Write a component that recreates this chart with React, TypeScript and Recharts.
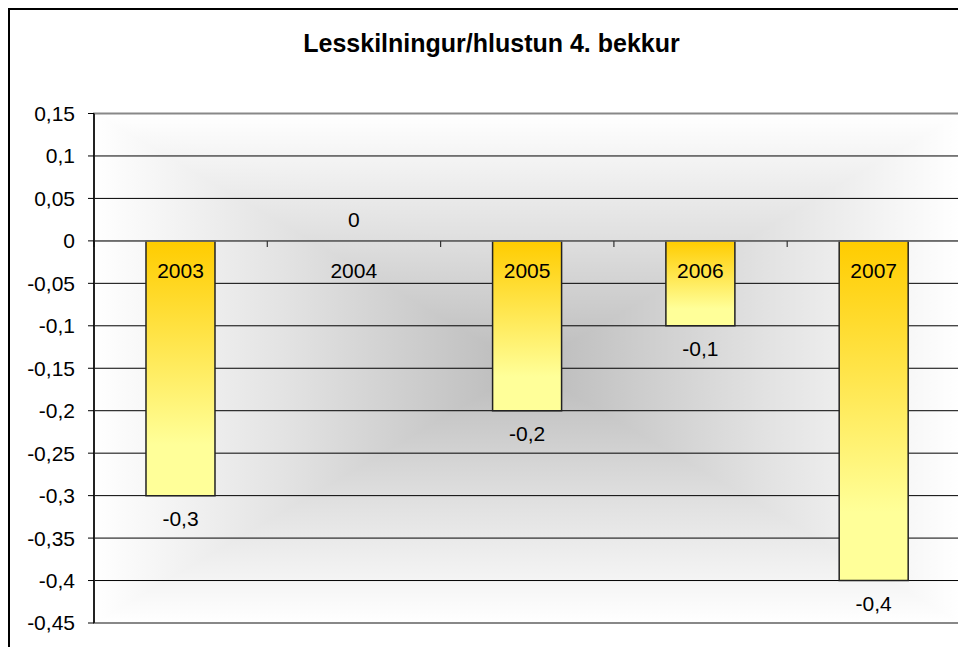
import React from 'react';
import { BarChart, Bar, XAxis, YAxis, CartesianGrid, LabelList, ReferenceLine, ReferenceArea, Rectangle } from 'recharts';

const years = ['2003', '2004', '2005', '2006', '2007'];
const scores = [-0.3, 0, -0.2, -0.1, -0.4];
const yTicks = [0.15, 0.1, 0.05, 0, -0.05, -0.1, -0.15, -0.2, -0.25, -0.3, -0.35, -0.4, -0.45];

const data = years.map((year, i) => ({ year, value: scores[i] }));

const FONT = "'Liberation Sans', Arial, sans-serif";
const LABEL_SIZE = 21;

// comma as decimal separator
const fmt = (v: number) => String(v).replace('.', ',');

const box = (p: any) => {
  const vb = p.viewBox ?? p;
  const x = vb.x ?? 0;
  const y = vb.y ?? 0;
  const w = vb.width ?? 0;
  const h = vb.height ?? 0;
  return { cx: x + w / 2, top: Math.min(y, y + h), bottom: Math.max(y, y + h) };
};

const YearLabel = (p: any) => {
  const { cx, bottom, top } = box(p);
  // zero line is the top of negative bars, bottom of the (near) zero bar
  const zero = Math.abs(bottom - top) < 1 ? bottom : top;
  return (
    <text x={cx} y={zero + 37.5} textAnchor="middle" fontSize={LABEL_SIZE} fontFamily={FONT} fill="#000">
      {p.value}
    </text>
  );
};

const ValueLabel = (p: any) => {
  const { cx, top, bottom } = box(p);
  const v = Number(p.value);
  const y = v < 0 ? bottom + 30.5 : bottom - 14;
  return (
    <text x={cx} y={y} textAnchor="middle" fontSize={LABEL_SIZE} fontFamily={FONT} fill="#000">
      {fmt(v)}
    </text>
  );
};

// hide the min-size stub drawn for the zero value
const BarShape = (p: any) => (Math.abs(p.height) < 1 ? <g /> : <Rectangle {...p} />);

// zero line with the category tick marks hanging below it
const ZeroLine = (p: any) => {
  const { x1, y1, x2, y2 } = p;
  if (x1 == null) return null;
  const step = (x2 - x1) / years.length;
  const marks = [...years.map((_, i) => x1 + step * i), x2];
  return (
    <g>
      <line x1={x1} y1={y1} x2={x2} y2={y2} stroke="#707070" strokeWidth={1.5} />
      {marks.map((tx, i) => (
        <line key={i} x1={tx} x2={tx} y1={y1} y2={y1 + 6} stroke="#333" strokeWidth={1.2} />
      ))}
    </g>
  );
};

const stops = (reverse: boolean) => {
  const s = [
    ['0', '#ffffff'],
    ['0.45', '#e2e2e2'],
    ['1', '#bababa'],
  ];
  const list = reverse ? s.map(([o, c]) => [String(1 - Number(o)), c]).reverse() : s;
  return list.map(([o, c]) => <stop key={o} offset={o} stopColor={c} />);
};

export default function App() {
  return (
    <div
      style={{
        position: 'relative',
        width: 958,
        height: 639,
        boxSizing: 'border-box',
        borderTop: '2px solid #000',
        borderLeft: '2px solid #000',
        overflow: 'hidden',
        background: '#fff',
      }}
    >
      <div
        style={{
          position: 'absolute',
          left: 0,
          top: 20.5,
          width: 963,
          textAlign: 'center',
          fontFamily: FONT,
          fontWeight: 'bold',
          fontSize: 25,
          lineHeight: '25px',
          color: '#000',
        }}
      >
        Lesskilningur/hlustun 4. bekkur
      </div>
      <div
        style={{
          position: 'absolute',
          left: 949,
          top: 205,
          width: 30,
          height: 48,
          boxSizing: 'border-box',
          border: '2px solid #000',
          background: '#fff',
        }}
      />
      <BarChart
        width={956}
        height={637}
        data={data}
        margin={{ top: 103.5, right: 5.5, bottom: 24, left: 0 }}
        barCategoryGap="30%"
      >
        <defs>
          <linearGradient id="gTop" x1="0" y1="0" x2="0" y2="1">{stops(false)}</linearGradient>
          <linearGradient id="gBottom" x1="0" y1="0" x2="0" y2="1">{stops(true)}</linearGradient>
          <linearGradient id="gLeft" x1="0" y1="0" x2="1" y2="0">{stops(false)}</linearGradient>
          <linearGradient id="gRight" x1="0" y1="0" x2="1" y2="0">{stops(true)}</linearGradient>
          <pattern id="plotBg" patternUnits="objectBoundingBox" patternContentUnits="objectBoundingBox" width="1" height="1">
            <polygon points="0,0 1,0 0.5,0.5" fill="url(#gTop)" stroke="url(#gTop)" strokeWidth={0.003} />
            <polygon points="0,1 1,1 0.5,0.5" fill="url(#gBottom)" stroke="url(#gBottom)" strokeWidth={0.003} />
            <polygon points="0,0 0,1 0.5,0.5" fill="url(#gLeft)" stroke="url(#gLeft)" strokeWidth={0.003} />
            <polygon points="1,0 1,1 0.5,0.5" fill="url(#gRight)" stroke="url(#gRight)" strokeWidth={0.003} />
          </pattern>
          <linearGradient id="barFill" x1="0" y1="0" x2="0" y2="1">
            <stop offset="0" stopColor="#ffcc00" />
            <stop offset="0.8" stopColor="#ffff99" />
            <stop offset="1" stopColor="#ffff99" />
          </linearGradient>
        </defs>
        <CartesianGrid vertical={false} stroke="#000" strokeWidth={1} fill="url(#plotBg)" fillOpacity={1} />
        <ReferenceArea y1={-0.45} y2={0.15} fill="none" stroke="#888" strokeWidth={2} ifOverflow="visible" />
        <XAxis dataKey="year" hide />
        <YAxis
          domain={[-0.45, 0.15]}
          ticks={yTicks}
          interval={0}
          width={84}
          tickFormatter={fmt}
          tickSize={6}
          tickMargin={13}
          axisLine={{ stroke: '#000', strokeWidth: 1.5 }}
          tickLine={{ stroke: '#000' }}
          tick={{ fill: '#000', fontSize: LABEL_SIZE, fontFamily: FONT }}
        />
        <ReferenceLine y={0} shape={ZeroLine} />
        <Bar
          dataKey="value"
          fill="url(#barFill)"
          stroke="#222"
          strokeWidth={1.5}
          minPointSize={0.01}
          shape={BarShape}
          isAnimationActive={false}
        >
          <LabelList dataKey="year" content={YearLabel} />
          <LabelList dataKey="value" content={ValueLabel} />
        </Bar>
      </BarChart>
    </div>
  );
}
